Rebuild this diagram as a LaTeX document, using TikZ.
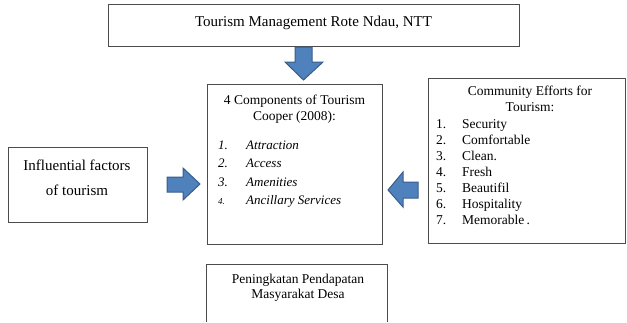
\documentclass[tikz,border=0pt]{standalone}
\usepackage{fontspec}
\setmainfont{Liberation Serif}
\definecolor{arrfill}{HTML}{4F81BD}
\definecolor{arrdraw}{HTML}{385D8A}
\tikzset{
  boxframe/.style={draw=black!70, line width=0.9pt},
  blockarrow/.style={fill=arrfill, draw=arrdraw, line width=1pt, line join=miter},
  txt/.style={inner sep=0pt, font=\fontsize{13.5}{16}\selectfont},
  bigtxt/.style={inner sep=0pt, font=\fontsize{15}{18}\selectfont},
  ittxt/.style={inner sep=0pt, font=\fontsize{13}{16}\selectfont\itshape},
}
\begin{document}
\begin{tikzpicture}[x=1pt,y=-1pt]
\useasboundingbox (0,0) rectangle (627,322);
% boxes
\draw[boxframe] (108,4) rectangle (519,46);
\draw[boxframe] (207,84) rectangle (382,244);
\draw[boxframe] (428,78) rectangle (625,243);
\draw[boxframe] (8,147) rectangle (147,222);
\draw[boxframe] (206,264) -- (206,322) (206,264) -- (387,264) -- (387,322);
% top text
\node[bigtxt] (top) at (313.5,23) {Tourism Management Rote Ndau, NTT};
% centre box
\node[txt] (c1) at (294.5,101) {4 Components of Tourism};
\node[txt] (c2) at (294.5,117) {Cooper (2008):};
\foreach \n/\t [count=\i] in {1./Attraction,2./Access,3./Amenities,{\fontsize{9}{10}\selectfont 4.}/Ancillary Services}{
  \node[ittxt, anchor=base west] (cn\i) at (218,{145+18.3*(\i-1)+4.5}) {\n};
  \node[ittxt, anchor=base west] (ct\i) at (246,{145+18.3*(\i-1)+4.5}) {\t};
}
% right box
\node[txt] (r1) at (530,92) {Community Efforts for};
\node[txt] (r2) at (530,107) {Tourism:};
\foreach \n/\t [count=\i] in {1./Security,2./Comfortable,3./Clean.,4./Fresh,5./Beautifil,6./Hospitality,7./Memorable\,.}{
  \node[txt, anchor=base west] (rn\i) at (436,{124+16*(\i-1)+4.5}) {\n};
  \node[txt, anchor=base west] (rt\i) at (462,{124+16*(\i-1)+4.5}) {\t};
}
% left box
\node[bigtxt] (l1) at (77,165) {Influential factors};
\node[bigtxt] (l2) at (77,190) {of tourism};
% bottom box
\node[txt] (b1) at (298,280) {Peningkatan Pendapatan};
\node[txt] (b2) at (298,295) {Masyarakat Desa};
% block arrows
\draw[blockarrow] (295,47) -- (312,47) -- (312,62) -- (323,62) -- (303.5,80) -- (285,62) -- (295,62) -- cycle;
\draw[blockarrow] (167,177) -- (183,177) -- (183,168) -- (200,184) -- (183,200) -- (183,192) -- (167,192) -- cycle;
\draw[blockarrow] (418,182) -- (403,182) -- (403,172) -- (388,190) -- (403,207) -- (403,198) -- (418,198) -- cycle;
\end{tikzpicture}
\end{document}
